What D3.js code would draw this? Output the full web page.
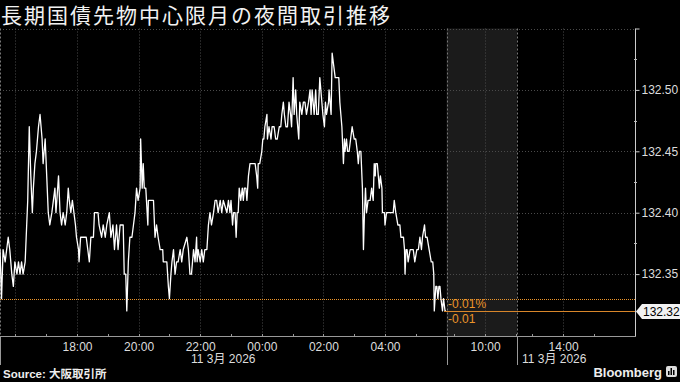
<!DOCTYPE html>
<html>
<head>
<meta charset="utf-8">
<script src="https://cdn.jsdelivr.net/npm/d3@7"></script>
<style>
body { margin: 0; background: #000; }
svg { display: block; font-family: "Liberation Sans", Arial, sans-serif; }
</style>
</head>
<body>
<div id="chart"></div>
<script>
// JGB futures night session, [minutes after 15:30, price]
var nightSession = [
  [0,132.37],[3,132.33],[6,132.37],[10,132.36],[13,132.37],[16,132.38],[19,132.37],[23,132.35],[26,132.34],[29,132.36],
  [33,132.35],[36,132.36],[39,132.35],[42,132.36],[45,132.35],[49,132.36],[52,132.39],[54,132.41],[57,132.47],[60,132.43],
  [63,132.40],[65,132.42],[68,132.44],[71,132.45],[75,132.47],[78,132.48],[80,132.47],[82,132.46],[84,132.44],[88,132.46],
  [91,132.43],[94,132.40],[97,132.39],[101,132.40],[104,132.41],[107,132.42],[109,132.40],[114,132.43],[117,132.40],[120,132.39],
  [123,132.40],[127,132.39],[130,132.40],[133,132.42],[135,132.41],[138,132.40],[141,132.41],[144,132.40],[147,132.39],[149,132.38],
  [153,132.37],[154,132.36],[157,132.38],[168,132.38],[171,132.37],[174,132.36],[177,132.38],[182,132.38],[184,132.40],[191,132.40],
  [193,132.39],[198,132.38],[201,132.39],[205,132.38],[208,132.39],[213,132.40],[216,132.38],[220,132.39],[223,132.37],[227,132.39],
  [230,132.37],[234,132.39],[240,132.39],[242,132.35],[245,132.35],[247,132.32],[250,132.36],[253,132.38],[257,132.38],[260,132.39],
  [263,132.40],[266,132.42],[269,132.41],[273,132.42],[274,132.46],[277,132.42],[279,132.44],[281,132.42],[284,132.42],[288,132.39],
  [289,132.41],[299,132.41],[302,132.38],[305,132.39],[308,132.38],[312,132.37],[317,132.37],[318,132.36],[325,132.36],[328,132.34],
  [330,132.33],[333,132.35],[335,132.36],[338,132.37],[341,132.35],[344,132.36],[347,132.36],[351,132.37],[354,132.36],[357,132.37],
  [364,132.38],[367,132.37],[370,132.35],[373,132.35],[377,132.37],[380,132.36],[383,132.38],[384,132.36],[386,132.37],[390,132.36],
  [393,132.37],[396,132.36],[399,132.37],[403,132.37],[406,132.39],[409,132.40],[412,132.39],[416,132.40],[419,132.41],[422,132.41],
  [425,132.40],[429,132.41],[432,132.40],[435,132.41],[442,132.40],[445,132.41],[448,132.40],[450,132.41],[453,132.39],[455,132.40],
  [458,132.40],[460,132.38],[462,132.40],[464,132.40],[466,132.42],[469,132.41],[472,132.42],[474,132.41],[476,132.42],[479,132.42],
  [481,132.41],[484,132.43],[487,132.44],[497,132.44],[500,132.43],[502,132.42],[503,132.44],[506,132.44],[510,132.45],[512,132.46],
  [514,132.46],[516,132.47],[520,132.48],[521,132.46],[524,132.47],[528,132.46],[530,132.47],[534,132.47],[537,132.46],[540,132.46],
  [544,132.47],[547,132.47],[549,132.48],[552,132.49],[554,132.48],[557,132.47],[560,132.47],[563,132.49],[566,132.48],[568,132.47],
  [571,132.51],[573,132.48],[576,132.50],[578,132.48],[580,132.47],[582,132.46],[584,132.49],[588,132.48],[591,132.49],[594,132.49],
  [597,132.48],[601,132.49],[604,132.50],[606,132.48],[608,132.50],[612,132.48],[615,132.50],[617,132.48],[620,132.48],[623,132.51],
  [627,132.49],[629,132.48],[632,132.47],[634,132.49],[636,132.48],[640,132.49],[641,132.50],[645,132.48],[647,132.53],[650,132.52],
  [653,132.51],[660,132.51],[662,132.49],[664,132.48],[666,132.47],[667,132.46],[669,132.44],[671,132.46],[672,132.45],[675,132.46],
  [677,132.45],[680,132.45],[683,132.46],[686,132.47],[690,132.46],[693,132.46],[696,132.45],[698,132.44],[700,132.45],[703,132.45],
  [706,132.42],[708,132.37],[710,132.40],[712,132.42],[714,132.40],[717,132.41],[721,132.41],[724,132.42],[727,132.41],[729,132.44],
  [731,132.43],[732,132.44],[735,132.44],[737,132.43],[739,132.42],[741,132.43],[744,132.42],[745,132.40],[749,132.40],[750,132.39],
  [753,132.40],[766,132.40],[768,132.41],[771,132.40],[775,132.39],[779,132.39],[781,132.38],[786,132.38],[788,132.37],[789,132.35],
  [791,132.37],[793,132.37],[795,132.36],[799,132.37],[805,132.37],[808,132.36],[812,132.37],[815,132.37],[818,132.38],[821,132.37],
  [823,132.38],[827,132.39],[829,132.38],[832,132.38],[836,132.37],[840,132.36],[843,132.36],[845,132.35],[846,132.32],[849,132.34],
  [851,132.34],[853,132.33],[855,132.34],[857,132.34],[859,132.33],[862,132.32],[864,132.33],[867,132.32],[869,132.32]
];
var prevClose = 132.33;

// trading sessions shown on the time axis (gaps are squeezed out)
var sessions = [
  ["2026-03-10 15:30", "2026-03-11 06:00"],
  ["2026-03-11 08:45", "2026-03-11 11:02"],
  ["2026-03-11 12:30", "2026-03-11 16:20"]
];
var shadedSession = ["2026-03-11 08:45", "2026-03-11 11:02"];

var yTicks = [132.35, 132.40, 132.45, 132.50, 132.55];
var yMinorTicks = [132.375, 132.425, 132.475, 132.525];
var xLabelTimes = ["2026-03-10 18:00", "2026-03-10 20:00", "2026-03-10 22:00", "2026-03-11 00:00",
                   "2026-03-11 02:00", "2026-03-11 04:00", "2026-03-11 10:00", "2026-03-11 14:00"];
var xGridTimes = ["2026-03-10 16:00"].concat(xLabelTimes);
var dateLabels = [
  {text: "11 3月 2026", at: "2026-03-10 22:45", anchor: "middle", dx: 0},
  {text: "11 3月 2026", at: "2026-03-11 12:30", anchor: "start", dx: 5}
];

var title = "長期国債先物中心限月の夜間取引推移";
var source = "Source: 大阪取引所";

var width = 680, height = 382;
var plot = {left: 0, right: 635, top: 28.5, bottom: 336};
var orange = "#eb952a";
var orangeLine = "#d8862a";

var parse = d3.timeParse("%Y-%m-%d %H:%M");
var open = parse(sessions[0][0]);

// piecewise time scale, equal pixels per minute inside every session
var tradingMinutes = d3.sum(sessions, function(s) { return (parse(s[1]) - parse(s[0])) / 60000; });
var k = (plot.right - plot.left) / tradingMinutes;
var xDomain = [], xRange = [], acc = plot.left;
sessions.forEach(function(s) {
    var a = parse(s[0]), b = parse(s[1]);
    xDomain.push(a); xRange.push(acc);
    acc += (b - a) / 60000 * k;
    xDomain.push(b); xRange.push(acc);
});
var x = d3.scaleTime().domain(xDomain).range(xRange);
var y = d3.scaleLinear().domain([132.30, 132.55]).range([335.5, 28.5]);

var data = nightSession.map(function(d) {
    return {t: new Date(open.getTime() + d[0] * 60000), p: d[1]};
});

var svg = d3.select("#chart").append("svg")
    .attr("width", width)
    .attr("height", height);

svg.append("rect").attr("width", width).attr("height", height).attr("fill", "#000");

// shaded day session
svg.append("rect")
    .attr("x", x(parse(shadedSession[0])))
    .attr("y", plot.top)
    .attr("width", x(parse(shadedSession[1])) - x(parse(shadedSession[0])))
    .attr("height", plot.bottom - plot.top)
    .attr("fill", "#1b1b1b");

// grid
var grid = svg.append("g").attr("stroke", "#4a4a4a").attr("stroke-dasharray", "1,2");
grid.selectAll("line.h").data(yTicks).enter().append("line")
    .attr("x1", plot.left).attr("x2", plot.right)
    .attr("y1", function(d) { return Math.round(y(d)) + 0.5; })
    .attr("y2", function(d) { return Math.round(y(d)) + 0.5; });
grid.selectAll("line.v").data(xGridTimes.map(parse)).enter().append("line")
    .attr("x1", function(d) { return Math.round(x(d)) + 0.5; })
    .attr("x2", function(d) { return Math.round(x(d)) + 0.5; })
    .attr("y1", plot.top).attr("y2", plot.bottom);

// session boundaries
var bounds = [parse(sessions[0][0]), parse(sessions[1][0]), parse(sessions[2][0])];
svg.append("g").attr("stroke", "#777").attr("stroke-dasharray", "2,2")
    .selectAll("line").data(bounds).enter().append("line")
    .attr("x1", function(d) { return Math.round(x(d)) + 0.5; })
    .attr("x2", function(d) { return Math.round(x(d)) + 0.5; })
    .attr("y1", plot.top).attr("y2", plot.bottom);
svg.append("g").attr("stroke", "#999")
    .selectAll("line").data(bounds).enter().append("line")
    .attr("x1", function(d) { return Math.round(x(d)) + 0.5; })
    .attr("x2", function(d) { return Math.round(x(d)) + 0.5; })
    .attr("y1", plot.bottom).attr("y2", 365);

// previous close
svg.append("line")
    .attr("x1", plot.left).attr("x2", plot.right)
    .attr("y1", Math.round(y(prevClose)) + 0.5).attr("y2", Math.round(y(prevClose)) + 0.5)
    .attr("stroke", orange).attr("stroke-dasharray", "1,1");

// price line
var line = d3.line()
    .x(function(d) { return x(d.t); })
    .y(function(d) { return y(d.p); });
svg.append("path")
    .datum(data)
    .attr("d", line)
    .attr("fill", "none")
    .attr("stroke", "#fff")
    .attr("stroke-width", 1.3)
    .attr("stroke-linejoin", "round");

// last price line + change labels
var last = data[data.length - 1];
var change = last.p - prevClose;
var ly = Math.round(y(last.p)) + 0.5;
svg.append("line")
    .attr("x1", x(last.t) - 2).attr("x2", plot.right)
    .attr("y1", ly).attr("y2", ly)
    .attr("stroke", orangeLine)
    .attr("stroke-width", 1.2);
svg.append("text")
    .attr("x", x(last.t) + 2).attr("y", y(prevClose) + 9)
    .attr("fill", orange).attr("font-size", 12)
    .text((change / prevClose * 100).toFixed(2) + "%");
svg.append("text")
    .attr("x", x(last.t) + 2).attr("y", y(last.p) + 12)
    .attr("fill", orange).attr("font-size", 12)
    .text(change.toFixed(2));

// y axis
svg.append("line")
    .attr("x1", plot.right + 0.5).attr("x2", plot.right + 0.5)
    .attr("y1", plot.top).attr("y2", plot.bottom + 1)
    .attr("stroke", "#ccc");
var yAxis = d3.axisRight(y).tickValues(yTicks).tickSize(4).tickPadding(2)
    .tickFormat(function(d) { return d >= 132.55 ? "" : d3.format(".2f")(d); });
var yAxisG = svg.append("g")
    .attr("transform", "translate(" + (plot.right + 0.5) + ",0)")
    .call(yAxis);
yAxisG.select(".domain").remove();
yAxisG.selectAll("line").attr("stroke", "#ccc");
yAxisG.selectAll("text").attr("fill", "#ddd").attr("font-size", 12).attr("font-family", "Liberation Sans, Arial, sans-serif");
svg.append("g").attr("stroke", "#bbb")
    .selectAll("line").data(yMinorTicks).enter().append("line")
    .attr("x1", plot.right - 1).attr("x2", plot.right + 2)
    .attr("y1", function(d) { return Math.round(y(d)) + 0.5; })
    .attr("y2", function(d) { return Math.round(y(d)) + 0.5; });

// last price tag
svg.append("path")
    .attr("d", "M" + (plot.right + 1) + "," + ly + "L" + (plot.right + 7) + "," + (ly - 7.5) +
               "H" + width + "V" + (ly + 7.5) + "H" + (plot.right + 7) + "Z")
    .attr("fill", "#f2f2f2");
svg.append("text")
    .attr("x", plot.right + 8).attr("y", ly + 4.5)
    .attr("fill", "#000").attr("font-size", 12)
    .text(d3.format(".2f")(last.p));

// x axis
svg.append("line")
    .attr("x1", plot.left).attr("x2", plot.right + 1)
    .attr("y1", plot.bottom + 0.5).attr("y2", plot.bottom + 0.5)
    .attr("stroke", "#999");
var hourTicks = [];
sessions.forEach(function(s) {
    d3.timeHour.range(parse(s[0]), parse(s[1])).forEach(function(h) {
        if (+h > +parse(s[0]) && x(h) < plot.right - 20) hourTicks.push(h);
    });
});
svg.append("g").attr("stroke", "#999")
    .selectAll("line").data(hourTicks).enter().append("line")
    .attr("x1", function(d) { return Math.round(x(d)) + 0.5; })
    .attr("x2", function(d) { return Math.round(x(d)) + 0.5; })
    .attr("y1", plot.bottom - 2).attr("y2", plot.bottom);

var xAxis = d3.axisBottom(x).tickValues(xLabelTimes.map(parse)).tickSize(0).tickPadding(6)
    .tickFormat(d3.timeFormat("%H:%M"));
var xAxisG = svg.append("g")
    .attr("transform", "translate(0," + plot.bottom + ")")
    .call(xAxis);
xAxisG.select(".domain").remove();
xAxisG.selectAll("text").attr("fill", "#ddd").attr("font-size", 12).attr("font-family", "Liberation Sans, Arial, sans-serif");

svg.selectAll("text.date").data(dateLabels).enter().append("text")
    .attr("class", "date")
    .attr("x", function(d) { return x(parse(d.at)) + d.dx; })
    .attr("y", 363)
    .attr("text-anchor", function(d) { return d.anchor; })
    .attr("fill", "#ddd").attr("font-size", 12)
    .attr("font-family", "Liberation Sans, 'Noto Sans CJK JP', sans-serif")
    .text(function(d) { return d.text; });

// title and footer
svg.append("text")
    .attr("x", 1).attr("y", 23)
    .attr("fill", "#f2f2f2")
    .attr("font-size", 21)
    .attr("letter-spacing", 2)
    .attr("font-family", "'Noto Sans CJK JP', sans-serif")
    .text(title);
svg.append("text")
    .attr("x", 3).attr("y", 378)
    .attr("fill", "#eee").attr("font-size", 11.5).attr("font-weight", "bold")
    .attr("font-family", "'Liberation Sans', 'Noto Sans CJK JP', sans-serif")
    .text(source);
svg.append("text")
    .attr("x", 662).attr("y", 377)
    .attr("text-anchor", "end")
    .attr("fill", "#eee").attr("font-size", 13).attr("font-weight", "bold")
    .attr("font-family", "'Liberation Sans', Arial, sans-serif")
    .text("Bloomberg");
var logo = svg.append("g").attr("transform", "translate(666,366)");
logo.append("rect").attr("width", 11).attr("height", 11).attr("rx", 2).attr("fill", "#ddd");
logo.selectAll("rect.bar").data([[2, 5], [4.5, 2], [7, 4]]).enter().append("rect")
    .attr("x", function(d) { return d[0]; }).attr("y", function(d) { return d[1]; })
    .attr("width", 1.5).attr("height", function(d) { return 9 - d[1]; })
    .attr("fill", "#000");
</script>
</body>
</html>
